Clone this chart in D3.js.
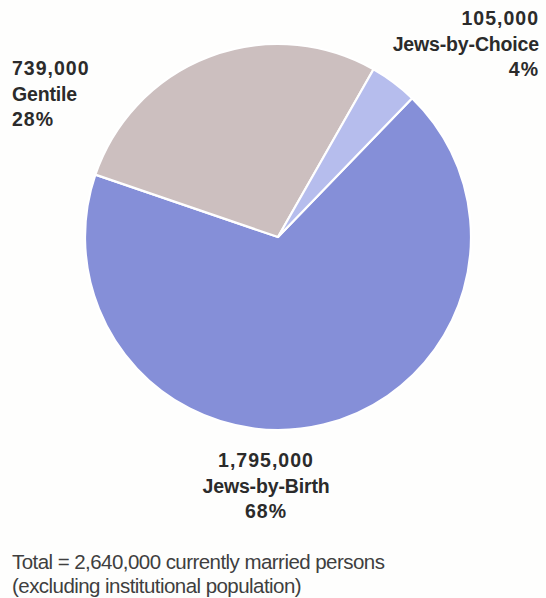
<!DOCTYPE html>
<html>
<head>
<meta charset="utf-8">
<script src="https://cdn.jsdelivr.net/npm/d3@7"></script>
<style>
  html, body { margin: 0; padding: 0; background: #fefefd; }
  svg { display: block; }
  text { font-family: "Liberation Sans", Arial, Helvetica, sans-serif; }
</style>
</head>
<body>
<svg id="chart" width="546" height="598"></svg>
<script>
// ---- data ----
const categories = ["Jews-by-Birth", "Gentile", "Jews-by-Choice"];
const counts = [1795000, 739000, 105000];
const countLabels = ["1,795,000", "739,000", "105,000"];
const percentLabels = ["68%", "28%", "4%"];
const sliceColors = ["#858fd8", "#ccbfbf", "#b6bded"];
const totalLine1 = "Total = 2,640,000 currently married persons";
const totalLine2 = "(excluding institutional population)";

// ---- layout ----
const svg = d3.select("#chart");
const cx = 278, cy = 237, radius = 193;

const data = categories.map((c, i) => ({ name: c, value: counts[i], count: countLabels[i], pct: percentLabels[i], color: sliceColors[i] }));

const pie = d3.pie()
  .value(d => d.value)
  .sort(null)
  .startAngle(44 * Math.PI / 180)
  .endAngle(44 * Math.PI / 180 + 2 * Math.PI);

const arc = d3.arc().innerRadius(0).outerRadius(radius);

const g = svg.append("g").attr("transform", `translate(${cx},${cy})`);
g.selectAll("path")
  .data(pie(data))
  .join("path")
  .attr("d", arc)
  .attr("fill", d => d.data.color)
  .attr("stroke", "#ffffff")
  .attr("stroke-width", 2.2)
  .attr("stroke-linejoin", "round");

// ---- labels ----
const labelPos = [
  { x: 266, y: 467, anchor: "middle" },   // Jews-by-Birth
  { x: 12, y: 75, anchor: "start" },      // Gentile
  { x: 539, y: 25, anchor: "end" }        // Jews-by-Choice
];
const lineGap = 25.7;

data.forEach((d, i) => {
  const p = labelPos[i];
  const t = svg.append("text")
    .attr("text-anchor", p.anchor)
    .attr("font-size", 19.5)
    .attr("font-weight", "bold")
    .attr("fill", "#2b2b2b");
  const lines = [d.count, d.name, d.pct];
  lines.forEach((ln, k) => {
    t.append("tspan")
      .attr("x", p.x)
      .attr("y", p.y + k * lineGap)
      .attr("letter-spacing", k === 1 ? -0.15 : 1.0)
      .text(ln);
  });
});

// ---- footer ----
svg.append("text")
  .attr("x", 12).attr("y", 569)
  .attr("font-size", 20.5)
  .attr("letter-spacing", -0.55)
  .attr("fill", "#3f3f3f")
  .text(totalLine1);
svg.append("text")
  .attr("x", 12).attr("y", 593)
  .attr("font-size", 20.5)
  .attr("letter-spacing", -0.55)
  .attr("fill", "#3f3f3f")
  .text(totalLine2);
</script>
</body>
</html>
